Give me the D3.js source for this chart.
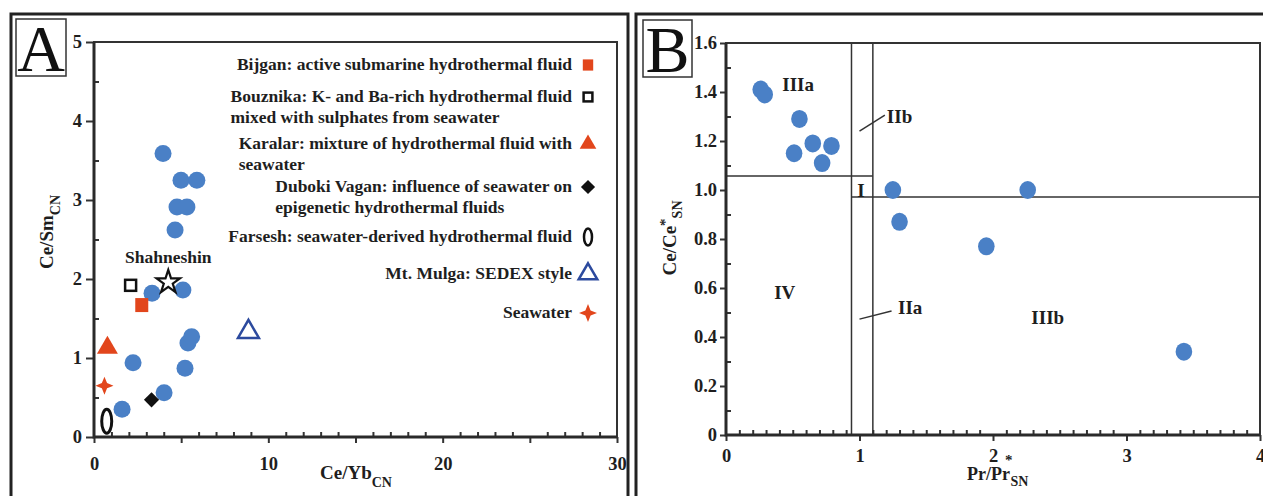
<!DOCTYPE html>
<html>
<head>
<meta charset="utf-8">
<script src="https://cdn.jsdelivr.net/npm/d3@7"></script>
<style>
  body { margin: 0; background: #fff; }
  svg text { font-family: "Liberation Serif", "Times New Roman", serif; font-weight: bold; fill: #1e1e1e; }
</style>
</head>
<body>
<div id="chart"></div>
<script>
// ---- Panel A: Ce/Yb(CN) vs Ce/Sm(CN) ----
const aSampleX = [3.96, 4.99, 5.9, 4.76, 5.33, 4.65, 3.33, 5.1, 5.39, 5.6, 2.24, 5.22, 4.02, 1.61];
const aSampleY = [3.59, 3.25, 3.25, 2.91, 2.91, 2.62, 1.82, 1.86, 1.19, 1.27, 0.94, 0.87, 0.56, 0.35];

const aRefNames = ["Bijgan", "Bouznika", "Karalar", "Duboki Vagan", "Farsesh", "Mt. Mulga", "Seawater", "Shahneshin"];
const aRefX = [2.74, 2.1, 0.77, 3.3, 0.73, 8.86, 0.6, 4.26];
const aRefY = [1.67, 1.92, 1.13, 0.47, 0.2, 1.33, 0.65, 1.96];

const aLegendText = [
  ["Bijgan: active submarine hydrothermal fluid"],
  ["Bouznika: K- and Ba-rich hydrothermal fluid", "mixed with sulphates from seawater"],
  ["Karalar: mixture of hydrothermal fluid with", "seawater"],
  ["Duboki Vagan: influence of seawater on", "epigenetic hydrothermal fluids"],
  ["Farsesh: seawater-derived hydrothermal fluid"],
  ["Mt. Mulga: SEDEX style"],
  ["Seawater"]
];

const aXTicks = [0, 10, 20, 30];
const aYTicks = [0, 1, 2, 3, 4, 5];

// ---- Panel B: Pr/Pr*(SN) vs Ce/Ce*(SN) ----
const bSampleX = [0.26, 0.29, 0.55, 0.65, 0.79, 0.51, 0.72, 1.25, 1.3, 2.26, 1.95, 3.43];
const bSampleY = [1.41, 1.39, 1.29, 1.19, 1.18, 1.15, 1.11, 1.0, 0.87, 1.0, 0.77, 0.34];

const bXTicks = [0, 1, 2, 3, 4];
const bYTicks = [0, 0.2, 0.4, 0.6, 0.8, 1.0, 1.2, 1.4, 1.6];

const bFieldNames = ["IIIa", "IIb", "I", "IV", "IIa", "IIIb"];
const bFieldX = [0.54, 1.30, 1.01, 0.44, 1.38, 2.41];
const bFieldY = [1.43, 1.30, 1.0, 0.58, 0.52, 0.48];

const bVLines = [0.94, 1.1];
const bHLineY = [1.057, 0.971];
const bHLineFrom = [0, 0.94];
const bHLineTo = [1.1, 4];

const blue = "#4a80c6";
const red = "#e2461c";
const navy = "#2c4a9e";

const svg = d3.select("#chart").append("svg")
  .attr("width", 1263)
  .attr("height", 496);

// outer frames
svg.append("rect").attr("x", 11).attr("y", 14).attr("width", 617).attr("height", 500)
  .attr("fill", "none").attr("stroke", "#222").attr("stroke-width", 3);
svg.append("rect").attr("x", 636).attr("y", 14).attr("width", 640).attr("height", 500)
  .attr("fill", "none").attr("stroke", "#222").attr("stroke-width", 3);

function panelLetter(x, y, w, h, letter) {
  svg.append("rect").attr("x", x).attr("y", y).attr("width", w).attr("height", h)
    .attr("fill", "#fff").attr("stroke", "#333").attr("stroke-width", 1.5);
  svg.append("text").attr("x", x + w / 2).attr("y", y + h - 5)
    .attr("text-anchor", "middle")
    .style("font-weight", "normal")
    .style("font-size", "66px")
    .style("fill", "#111")
    .text(letter);
}
panelLetter(16, 19, 50, 57, "A");
panelLetter(643, 20, 49, 57, "B");

function styleAxis(g) {
  g.attr("font-family", null).attr("font-size", null);
  g.select(".domain").remove();
  g.selectAll("line").attr("stroke", "#333").attr("stroke-width", 2);
  g.selectAll("text").style("font-size", "18.5px");
}

function frame(x, y) {
  const [x0, x1] = x.range();
  const [y0, y1] = y.range();
  svg.append("rect").attr("x", x0).attr("y", y1).attr("width", x1 - x0).attr("height", y0 - y1)
    .attr("fill", "none").attr("stroke", "#333").attr("stroke-width", 2);
  svg.append("path").attr("d", `M${x0},${y1}V${y0}H${x1}`)
    .attr("fill", "none").attr("stroke", "#2a2a2a").attr("stroke-width", 3);
}

// ===== Panel A =====
const xA = d3.scaleLinear().domain([0, 30]).range([94, 617]);
const yA = d3.scaleLinear().domain([0, 5]).range([437, 42]);

svg.append("g").attr("transform", `translate(0,${yA(0)})`)
  .call(d3.axisBottom(xA).tickValues(d3.range(1, 30).filter(d => d % 5 !== 0)).tickSize(-5).tickFormat(""))
  .call(styleAxis);
svg.append("g").attr("transform", `translate(0,${yA(0)})`)
  .call(d3.axisBottom(xA).tickValues(d3.range(0, 31, 5)).tickSize(6).tickPadding(14)
    .tickFormat(d => aXTicks.includes(d) ? String(d) : ""))
  .call(styleAxis);
svg.append("g").attr("transform", `translate(${xA(0)},0)`)
  .call(d3.axisLeft(yA).tickValues(d3.range(0.5, 5, 1)).tickSize(-5).tickFormat(""))
  .call(styleAxis);
svg.append("g").attr("transform", `translate(${xA(0)},0)`)
  .call(d3.axisLeft(yA).tickValues(aYTicks).tickSize(8).tickPadding(4).tickFormat(d3.format("d")))
  .call(styleAxis);
frame(xA, yA);

// axis titles A
const atx = svg.append("text").attr("x", 320).attr("y", 479).style("font-size", "19px");
atx.append("tspan").text("Ce/Yb");
atx.append("tspan").attr("dy", 8).style("font-size", "14px").text("CN");

const aty = svg.append("text").attr("transform", "translate(53,232) rotate(-90)")
  .attr("text-anchor", "middle").style("font-size", "19px");
aty.append("tspan").text("Ce/Sm");
aty.append("tspan").attr("dy", 7).style("font-size", "14px").text("CN");

// samples A
svg.append("g").selectAll("circle")
  .data(d3.zip(aSampleX, aSampleY))
  .join("circle")
  .attr("cx", d => xA(d[0]))
  .attr("cy", d => yA(d[1]))
  .attr("r", 8.5)
  .attr("fill", blue);

// reference markers
const star4 = "M0,-9L2.6,-2.6L9,0L2.6,2.6L0,9L-2.6,2.6L-9,0L-2.6,-2.6Z";
function drawMarker(g, name, big) {
  const k = big ? 1 : 0.8;
  switch (name) {
    case "Bijgan":
      g.append("rect").attr("x", -6.5 * k).attr("y", -7 * k).attr("width", 13 * k).attr("height", 14 * k).attr("fill", red);
      break;
    case "Bouznika":
      g.append("rect").attr("x", -5.5 * k).attr("y", -5.5 * k).attr("width", 11 * k).attr("height", 11 * k)
        .attr("fill", "#fff").attr("stroke", "#111").attr("stroke-width", 2.5);
      break;
    case "Karalar":
      g.append("path").attr("d", d3.symbol().type(d3.symbolTriangle).size(big ? 190 : 120)()).attr("fill", red);
      break;
    case "Duboki Vagan":
      g.append("path").attr("d", d3.symbol().type(d3.symbolSquare).size(big ? 115 : 100)())
        .attr("transform", "rotate(45)").attr("fill", "#111");
      break;
    case "Farsesh":
      g.append("ellipse").attr("rx", big ? 5 : 4).attr("ry", big ? 12 : 8.5)
        .attr("fill", "none").attr("stroke", "#111").attr("stroke-width", big ? 3 : 2.5);
      break;
    case "Mt. Mulga":
      g.append("path").attr("d", d3.symbol().type(d3.symbolTriangle).size(big ? 190 : 150)())
        .attr("fill", "#fff").attr("stroke", navy).attr("stroke-width", 2.5);
      break;
    case "Seawater":
      g.append("path").attr("d", star4).attr("fill", red);
      break;
    case "Shahneshin":
      g.append("path").attr("d", d3.symbol().type(d3.symbolStar).size(170)())
        .attr("fill", "#fff").attr("stroke", "#111").attr("stroke-width", 2.2);
      break;
  }
}

aRefNames.forEach((name, i) => {
  const g = svg.append("g").attr("transform", `translate(${xA(aRefX[i])},${yA(aRefY[i])})`);
  drawMarker(g, name, true);
});
svg.append("text").attr("x", xA(aRefX[7])).attr("y", yA(aRefY[7]) - 19)
  .attr("text-anchor", "middle").style("font-size", "17.5px").text("Shahneshin");

// legend A
const legendBase = [70, 102, 149, 192, 242, 279, 318];
const legendRight = 572;
aLegendText.forEach((lines, i) => {
  const first = svg.append("text").attr("x", legendRight).attr("y", legendBase[i])
    .attr("text-anchor", "end").style("font-size", "17.5px").text(lines[0]);
  const startX = legendRight - first.node().getComputedTextLength();
  lines.slice(1).forEach((ln, j) => {
    svg.append("text").attr("x", startX).attr("y", legendBase[i] + 21 * (j + 1))
      .style("font-size", "17.5px").text(ln);
  });
  const g = svg.append("g").attr("transform", `translate(588,${legendBase[i] - 5})`);
  drawMarker(g, aRefNames[i], false);
});

// ===== Panel B =====
const xB = d3.scaleLinear().domain([0, 4]).range([726, 1260]);
const yB = d3.scaleLinear().domain([0, 1.6]).range([435, 43]);

svg.append("g").attr("transform", `translate(0,${yB(0)})`)
  .call(d3.axisBottom(xB).tickValues(d3.range(1, 40).filter(d => d % 10 !== 0).map(d => d / 10)).tickSize(-5).tickFormat(""))
  .call(styleAxis);
svg.append("g").attr("transform", `translate(0,${yB(0)})`)
  .call(d3.axisBottom(xB).tickValues(bXTicks).tickSize(6).tickPadding(8).tickFormat(d3.format("d")))
  .call(styleAxis);
svg.append("g").attr("transform", `translate(${xB(0)},0)`)
  .call(d3.axisLeft(yB).tickValues(d3.range(1, 16, 2).map(d => d / 10)).tickSize(-5).tickFormat(""))
  .call(styleAxis);
svg.append("g").attr("transform", `translate(${xB(0)},0)`)
  .call(d3.axisLeft(yB).tickValues(bYTicks).tickSize(6).tickPadding(3)
    .tickFormat(d => d === 0 ? "0" : d3.format(".1f")(d)))
  .call(styleAxis);

// field boundaries
const lineStyle = sel => sel.attr("stroke", "#333").attr("stroke-width", 1.5);
bVLines.forEach(v => {
  svg.append("line").attr("x1", xB(v)).attr("x2", xB(v)).attr("y1", yB(0)).attr("y2", yB(1.6)).call(lineStyle);
});
bHLineY.forEach((v, i) => {
  svg.append("line").attr("x1", xB(bHLineFrom[i])).attr("x2", xB(bHLineTo[i]))
    .attr("y1", yB(v)).attr("y2", yB(v)).call(lineStyle);
});
frame(xB, yB);

// leaders
svg.append("line").attr("x1", xB(1.0)).attr("y1", yB(1.24)).attr("x2", xB(1.19)).attr("y2", yB(1.306)).call(lineStyle);
svg.append("line").attr("x1", xB(1.0)).attr("y1", yB(0.473)).attr("x2", xB(1.24)).attr("y2", yB(0.506)).call(lineStyle);

bFieldNames.forEach((n, i) => {
  svg.append("text").attr("x", xB(bFieldX[i])).attr("y", yB(bFieldY[i]))
    .attr("text-anchor", "middle").attr("dominant-baseline", "central")
    .style("font-size", "19px").text(n);
});

svg.append("g").selectAll("ellipse")
  .data(d3.zip(bSampleX, bSampleY))
  .join("ellipse")
  .attr("cx", d => xB(d[0]))
  .attr("cy", d => yB(d[1]))
  .attr("rx", 8.3)
  .attr("ry", 9)
  .attr("fill", blue);

// axis titles B
const btx = svg.append("text").attr("x", 967).attr("y", 480).style("font-size", "18px");
btx.append("tspan").text("Pr/Pr");
btx.append("tspan").attr("dx", -5).attr("dy", -15).style("font-size", "15px").text("*");
btx.append("tspan").attr("dx", -2).attr("dy", 21).style("font-size", "14px").text("SN");

const bty = svg.append("text").attr("transform", "translate(676,238) rotate(-90)")
  .attr("text-anchor", "middle").style("font-size", "19px");
bty.append("tspan").text("Ce/Ce");
bty.append("tspan").attr("dy", -6).style("font-size", "15px").text("*");
bty.append("tspan").attr("dy", 12).style("font-size", "14px").text("SN");
</script>
</body>
</html>
